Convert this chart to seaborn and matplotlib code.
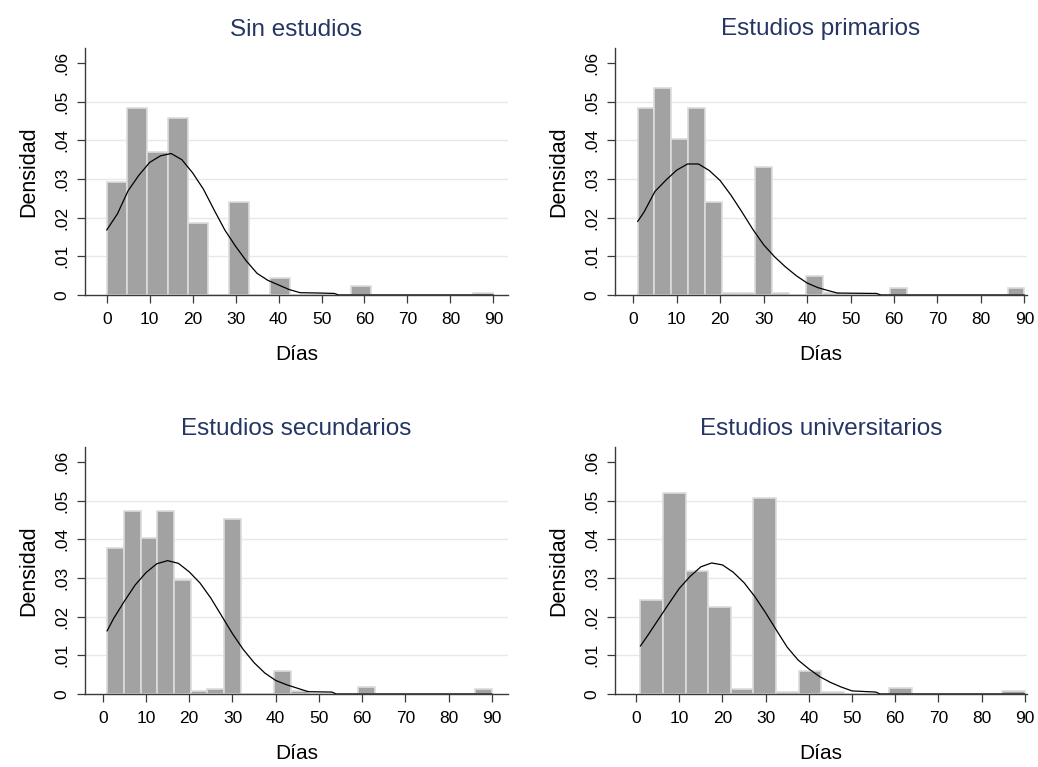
import numpy as np
import pandas as pd
import matplotlib
matplotlib.use("Agg")
import matplotlib.pyplot as plt
import seaborn as sns

sns.set_theme(style="white")
plt.rcParams['font.family'] = ['Liberation Sans', 'DejaVu Sans']

# ---------------- data ----------------
titles = ["Sin estudios", "Estudios primarios",
          "Estudios secundarios", "Estudios universitarios"]

# histogram bins: (start, end) of the binned range, densities per bin
bins_range = [(0, 90), (1, 90), (1, 90), (1, 90)]

dens_sin = [0.0293, 0.0485, 0.0369, 0.0459, 0.0185, 0.0, 0.0241, 0.0, 0.0043,
            0.0, 0.0, 0.0, 0.0024, 0.0, 0.0, 0.0, 0.0, 0.0, 0.0004]
dens_pri = [0.0485, 0.0536, 0.0403, 0.0485, 0.0241, 0.0004, 0.0004, 0.0332,
            0.0004, 0.0, 0.0050, 0.0004, 0.0, 0.0, 0.0, 0.0017, 0.0, 0.0,
            0.0, 0.0, 0.0, 0.0, 0.0017]
dens_sec = [0.0378, 0.0474, 0.0403, 0.0474, 0.0294, 0.0007, 0.0013, 0.0453,
            0.0, 0.0, 0.0059, 0.0008, 0.0, 0.0, 0.0, 0.0018, 0.0, 0.0,
            0.0, 0.0, 0.0, 0.0, 0.0013]
dens_uni = [0.0242, 0.0519, 0.0319, 0.0224, 0.0013, 0.0506, 0.0006, 0.0059,
            0.0006, 0.0, 0.0, 0.0015, 0.0, 0.0, 0.0, 0.0, 0.0007]

# overlaid density curves
curve_x_sin = [0, 2.5, 5, 7.5, 10, 12.5, 15, 17.5, 20, 22.5, 25, 27.5, 30, 32.5,
               35, 37.5, 40, 42.5, 45, 50, 53, 54, 90]
curve_y_sin = [0.0168, 0.0210, 0.0270, 0.0310, 0.0343, 0.0360, 0.0366, 0.0350,
               0.0316, 0.0274, 0.0220, 0.0168, 0.0126, 0.0088, 0.0056, 0.0038,
               0.0026, 0.0014, 0.0006, 0.0005, 0.0004, 0.0, 0.0]

curve_x_pri = [1, 2.5, 5, 7.5, 10, 12.5, 15, 17.5, 20, 22.5, 25, 27.5, 30, 32.5,
               35, 37.5, 40, 42.5, 45, 47, 56, 57, 90]
curve_y_pri = [0.0190, 0.0215, 0.0268, 0.0297, 0.0323, 0.0339, 0.0339, 0.0322,
               0.0296, 0.0258, 0.0215, 0.0170, 0.0130, 0.0099, 0.0073, 0.0050,
               0.0031, 0.0019, 0.0011, 0.0005, 0.0004, 0.0, 0.0]

curve_x_sec = [1, 2.5, 5, 7.5, 10, 12.5, 15, 17.5, 20, 22.5, 25, 27.5, 30, 32.5,
               35, 37.5, 40, 42.5, 45, 47.5, 53, 54, 90]
curve_y_sec = [0.0163, 0.0195, 0.0240, 0.0282, 0.0314, 0.0337, 0.0345, 0.0338,
               0.0316, 0.0287, 0.0248, 0.0202, 0.0156, 0.0115, 0.0081, 0.0054,
               0.0035, 0.0024, 0.0015, 0.0006, 0.0005, 0.0, 0.0]

curve_x_uni = [1, 2.5, 5, 7.5, 10, 12.5, 15, 17.5, 20, 22.5, 25, 27.5, 30, 32.5,
               35, 37.5, 40, 42.5, 45, 47.5, 50, 55.5, 56.5, 90]
curve_y_uni = [0.0124, 0.0148, 0.0190, 0.0232, 0.0273, 0.0304, 0.0329, 0.0339,
               0.0334, 0.0315, 0.0288, 0.0252, 0.0210, 0.0165, 0.0121, 0.0088,
               0.0065, 0.0045, 0.0030, 0.0018, 0.0008, 0.0005, 0.0, 0.0]

x_ticks = [0, 10, 20, 30, 40, 50, 60, 70, 80, 90]
y_ticks = [0, 0.01, 0.02, 0.03, 0.04, 0.05, 0.06]
y_tick_labels = ["0", ".01", ".02", ".03", ".04", ".05", ".06"]
x_label = "Días"
y_label = "Densidad"

densities = [dens_sin, dens_pri, dens_sec, dens_uni]
curves = [(curve_x_sin, curve_y_sin), (curve_x_pri, curve_y_pri),
          (curve_x_sec, curve_y_sec), (curve_x_uni, curve_y_uni)]

# ---------------- layout ----------------
W, H = 1038, 767
fig = plt.figure(figsize=(W / 100, H / 100), dpi=100)
fig.patch.set_facecolor("white")

# pixel boxes: (left, right, top, bottom)
boxes = [(85, 508, 48, 295), (615, 1027, 48, 295),
         (85, 508, 447, 694), (615, 1027, 447, 694)]
xlims = [(-5.05, 93.4), (-4.2, 90.6), (-4.1, 93.7), (-4.87, 90.5)]
ylim = (0, 0.0639)

title_color = "#263664"
bar_face = "#a2a2a2"
bar_edge = "#dcdcdc"
grid_color = "#e6e9e9"
axis_color = "#3a3a3a"

for i in range(4):
    l, r, t, b = boxes[i]
    ax = fig.add_axes([l / W, 1 - b / H, (r - l) / W, (b - t) / H])
    start, end = bins_range[i]
    dens = densities[i]
    edges = np.linspace(start, end, len(dens) + 1)
    centers = (edges[:-1] + edges[1:]) / 2
    df = pd.DataFrame({"x": centers, "w": dens})

    sns.histplot(data=df, x="x", weights="w", bins=list(edges), stat="count",
                 ax=ax, color=bar_face, edgecolor=bar_edge, linewidth=1.2,
                 alpha=1)
    cx, cy = curves[i]
    cdf = pd.DataFrame({"x": cx, "y": cy})
    sns.lineplot(data=cdf, x="x", y="y", ax=ax, color="black", linewidth=0.9)

    ax.set_xlim(*xlims[i])
    ax.set_ylim(*ylim)
    ax.set_xticks(x_ticks)
    ax.set_xticklabels([str(v) for v in x_ticks])
    ax.set_yticks(y_ticks)
    ax.set_yticklabels(y_tick_labels, rotation=90, va="center")

    ax.set_axisbelow(True)
    ax.yaxis.grid(True, color=grid_color, linewidth=1.0)
    ax.xaxis.grid(False)
    gl = ax.get_ygridlines()
    gl[0].set_visible(False)
    gl[-1].set_visible(False)

    for s in ["top", "right"]:
        ax.spines[s].set_visible(False)
    for s in ["left", "bottom"]:
        ax.spines[s].set_color(axis_color)
        ax.spines[s].set_linewidth(1.0)

    ax.tick_params(axis="both", which="major", length=6, width=0.9,
                   color=axis_color, labelsize=12.5, labelcolor="black",
                   direction="out", bottom=True, left=True)
    ax.tick_params(axis="x", pad=6)
    ax.tick_params(axis="y", pad=5)

    ax.set_xlabel(x_label, fontsize=15, labelpad=13, color="black")
    ax.set_ylabel(y_label, fontsize=15.5, labelpad=11, color="black")
    ax.set_title(titles[i], fontsize=17.5, color=title_color, pad=9)
    ax.set_facecolor("white")

fig.savefig("out.png", dpi=100, facecolor="white")
